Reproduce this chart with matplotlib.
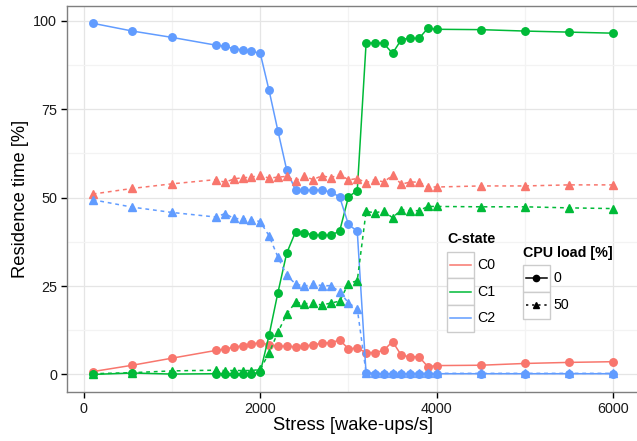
import matplotlib
matplotlib.use('Agg')
import matplotlib.pyplot as plt
from matplotlib.lines import Line2D
from matplotlib.patches import Rectangle

plt.rcParams['font.family'] = ['Liberation Sans', 'DejaVu Sans']

# Data
stress = [100, 550, 1000, 1500, 1600, 1700, 1800, 1900, 2000, 2100, 2200,
          2300, 2400, 2500, 2600, 2700, 2800, 2900, 3000, 3100, 3200, 3300,
          3400, 3500, 3600, 3700, 3800, 3900, 4000, 4500, 5000, 5500, 6000]

c0_load0 = [0.8, 2.6, 4.6, 6.8, 7.2, 7.7, 8.1, 8.7, 8.9, 8.4, 8.0,
            8.0, 7.8, 8.0, 8.4, 8.8, 9.0, 9.7, 7.3, 7.4, 6.2, 6.2,
            6.8, 9.3, 5.4, 5.0, 5.0, 2.2, 2.5, 2.6, 3.1, 3.4, 3.6]
c1_load0 = [0.0, 0.4, 0.1, 0.2, 0.2, 0.2, 0.2, 0.2, 0.6, 11.1, 23.1,
            34.3, 40.3, 40.0, 39.5, 39.3, 39.4, 40.5, 50.2, 52.0, 93.6, 93.8,
            93.6, 90.8, 94.7, 95.1, 95.0, 97.9, 97.6, 97.5, 97.1, 96.8, 96.5]
c2_load0 = [99.3, 97.1, 95.3, 93.1, 92.8, 92.1, 91.8, 91.4, 90.8, 80.3, 68.9,
            57.8, 52.1, 52.1, 52.1, 52.1, 51.6, 50.2, 42.4, 40.5, 0.3, 0.2,
            0.2, 0.2, 0.2, 0.2, 0.2, 0.2, 0.2, 0.2, 0.2, 0.2, 0.2]

c0_load50 = [51.0, 52.6, 53.9, 55.1, 54.3, 55.3, 55.6, 55.8, 56.3, 55.5, 55.8,
             56.0, 54.8, 56.0, 55.1, 56.2, 55.6, 56.6, 55.0, 55.4, 54.2, 55.1,
             54.4, 56.3, 53.8, 54.4, 54.4, 53.0, 53.0, 53.3, 53.3, 53.6, 53.6]
c1_load50 = [0.2, 0.5, 1.0, 1.2, 1.1, 1.1, 1.1, 1.1, 1.4, 6.1, 11.9,
             17.1, 20.4, 20.0, 20.1, 19.6, 20.2, 20.7, 25.7, 26.5, 46.1, 45.7,
             46.2, 44.3, 46.6, 46.3, 46.3, 47.5, 47.5, 47.4, 47.4, 47.1, 46.9]
c2_load50 = [49.4, 47.3, 45.8, 44.5, 45.5, 44.1, 44.0, 43.8, 43.2, 39.2, 33.2,
             28.0, 25.6, 24.9, 25.6, 25.1, 25.1, 23.4, 20.2, 18.6, 0.5, 0.3,
             0.3, 0.3, 0.3, 0.3, 0.3, 0.3, 0.3, 0.3, 0.3, 0.3, 0.3]

states = ['C0', 'C1', 'C2']
loads = ['0', '50']
colors = {'C0': '#F8766D', 'C1': '#00BA38', 'C2': '#619CFF'}
series = {
    ('C0', '0'): c0_load0, ('C1', '0'): c1_load0, ('C2', '0'): c2_load0,
    ('C0', '50'): c0_load50, ('C1', '50'): c1_load50, ('C2', '50'): c2_load50,
}
styles = {'0': ('-', 'o'), '50': ((0, (2.5, 2.5)), '^')}

W, H = 637, 441
fig = plt.figure(figsize=(W / 100, H / 100), dpi=100)
ax = fig.add_axes([66.7 / W, 1 - 392 / H, (639 - 66.7) / W, (392 - 5.7) / H])

for load in loads:
    ls, mk = styles[load]
    for st in states:
        ax.plot(stress, series[(st, load)], color=colors[st], linestyle=ls,
                marker=mk, markersize=5.4, linewidth=1.1, zorder=3)

ax.set_xlim(-195, 6295)
ax.set_ylim(-4.97, 104.27)
ax.set_xticks([0, 2000, 4000, 6000])
ax.set_xticks([1000, 3000, 5000], minor=True)
ax.set_yticks([0, 25, 50, 75, 100])
ax.set_yticks([12.5, 37.5, 62.5, 87.5], minor=True)
ax.grid(True, which='major', color='#E5E5E5', linewidth=0.9, zorder=0)
ax.grid(True, which='minor', color='#F3F3F3', linewidth=0.9, zorder=0)
ax.set_axisbelow(True)
ax.tick_params(which='major', direction='out', length=4, width=1,
               color='black', labelsize=10.4, labelcolor='#1a1a1a', pad=3)
ax.tick_params(which='minor', length=0)
for sp in ax.spines.values():
    sp.set_color('#7F7F7F')
    sp.set_linewidth(1)
ax.set_xlabel('Stress [wake-ups/s]', fontsize=13.2, labelpad=1)
ax.set_ylabel('Residence time [%]', fontsize=13.2, labelpad=3)


def fx(x):
    return x / W


def fy(y):
    return 1 - y / H


# C-state legend
fig.text(fx(447), fy(239), 'C-state', fontsize=10.3, fontweight='bold',
         va='center', ha='left')
key_tops = [251.7, 278.3, 305]
for st, top in zip(states, key_tops):
    fig.add_artist(Rectangle((fx(446.7), fy(top + 26.7)), 27.6 / W, 26.7 / H,
                             transform=fig.transFigure, facecolor='white',
                             edgecolor='#CCCCCC', linewidth=1))
    yc = top + 13.3
    fig.add_artist(Line2D([fx(450), fx(471)], [fy(yc), fy(yc)],
                          transform=fig.transFigure, color=colors[st], lw=1.1))
    fig.text(fx(477.5), fy(yc), st, fontsize=10.2, va='center', ha='left')

# CPU load legend
fig.text(fx(523), fy(253), 'CPU load [%]', fontsize=10.3, fontweight='bold',
         va='center', ha='left')
key_tops2 = [265, 291.9]
for load, top in zip(loads, key_tops2):
    ls, mk = styles[load]
    fig.add_artist(Rectangle((fx(522.7), fy(top + 26.9)), 27.3 / W, 26.9 / H,
                             transform=fig.transFigure, facecolor='white',
                             edgecolor='#CCCCCC', linewidth=1))
    yc = top + 13.4
    fig.add_artist(Line2D([fx(525.5), fx(547)], [fy(yc), fy(yc)],
                          transform=fig.transFigure, color='black', lw=1.1,
                          linestyle=ls if load == '0' else (0, (1.5, 2.5))))
    fig.add_artist(Line2D([fx(536.3)], [fy(yc)], transform=fig.transFigure,
                          color='black', marker=mk, markersize=4.5,
                          linestyle='none'))
    fig.text(fx(553), fy(yc), load, fontsize=10.2, va='center', ha='left')

fig.savefig('out.png', dpi=100)
